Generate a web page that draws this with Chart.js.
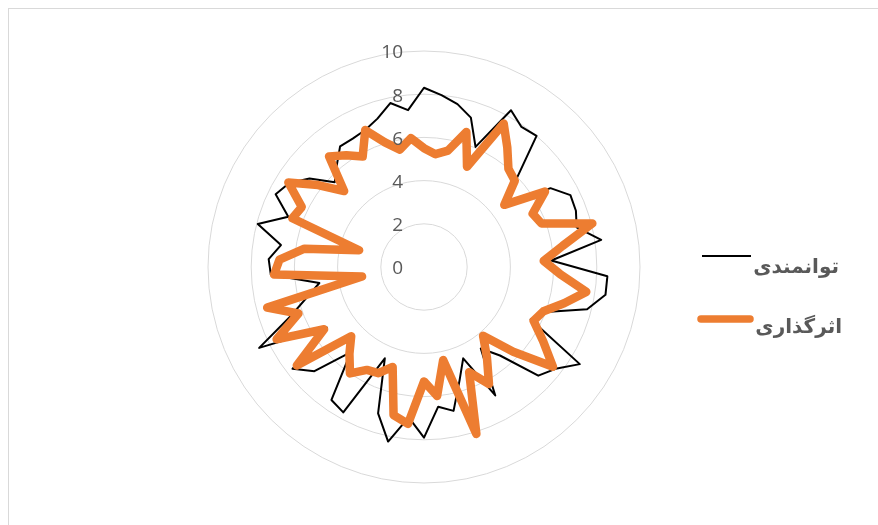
<!DOCTYPE html>
<html>
<head>
<meta charset="utf-8">
<script src="https://cdn.jsdelivr.net/npm/chart.js@4.4.0/dist/chart.umd.min.js"></script>
<style>
  body { margin: 0; background: #fff; }
  #wrap { position: relative; width: 878px; height: 525px; }
  #frame { position: absolute; left: 8px; top: 8px; right: 0; bottom: 0; border-top: 1px solid #d9d9d9; border-left: 1px solid #d9d9d9; }
  canvas { position: absolute; left: 0; top: 0; }
</style>
</head>
<body>
<div id="wrap">
  <div id="frame"></div>
  <canvas id="myChart" width="878" height="525"></canvas>
</div>
<script>
// 62 categories (no labels shown on the chart)
var categories = [];
for (var i = 1; i <= 62; i++) categories.push(String(i));

var seriesNames = ['توانمندی', 'اثرگذاری'];

var tavanmandi = [8.3, 8.0, 7.7, 7.25, 6.05, 8.3, 7.9, 8.0, 5.9, 4.6,
    6.9, 7.55, 7.5, 7.3, 8.3, 5.9, 8.5, 8.5, 7.8, 6.0,
    5.5, 8.5, 7.7, 7.3, 5.4, 4.6, 6.8, 4.6, 5.5, 6.8,
    6.5, 7.9, 7.0, 8.25, 7.1, 4.6, 7.7, 7.5, 5.2, 7.0,
    7.7, 5.3, 8.5, 6.6, 5.6, 4.9, 7.1, 7.2, 6.7, 7.95,
    6.7, 7.65, 7.35, 6.7, 5.7, 6.2, 6.8, 6.8, 6.9, 7.2,
    7.75, 7.3];

var asargozari = [5.5, 5.25, 5.5, 6.55, 5.05, 7.6, 6.75, 6.0, 5.8, 4.7,
    6.6, 5.6, 5.8, 8.05, 6.5, 5.55, 6.3, 7.6, 6.7, 5.9,
    5.65, 6.5, 7.55, 5.7, 4.2, 5.1, 6.2, 5.3, 8.1, 4.4,
    6.0, 5.3, 7.3, 7.0, 4.85, 5.35, 5.45, 6.0, 5.3, 4.65,
    7.45, 5.45, 7.6, 6.2, 7.5, 2.9, 6.95, 6.7, 5.6, 3.1,
    6.5, 6.3, 7.4, 6.2, 5.1, 6.75, 6.3, 5.85, 6.9, 6.05,
    5.55, 6.0];

var tickValues = [0, 2, 4, 6, 8, 10];

// tick labels sit left of the vertical axis, legend is drawn on the right
var extras = {
    id: 'extras',
    afterDraw: function (chart) {
        var ctx = chart.ctx;
        var r = chart.scales.r;
        ctx.save();
        ctx.font = '19px "Open Sans"';
        ctx.fillStyle = '#595959';
        ctx.textAlign = 'right';
        ctx.textBaseline = 'middle';
        tickValues.forEach(function (v) {
            var y = r.yCenter - r.getDistanceFromCenterForValue(v);
            ctx.fillText(String(v), r.xCenter - 21, y + 2);
        });

        var items = [
            { y: 256, color: '#000000', width: 2, x0: 702, x1: 751, tx: 839, ty: 273 },
            { y: 319, color: '#ed7d31', width: 7.5, x0: 701, x1: 750, tx: 842, ty: 333 }
        ];
        ctx.font = 'bold 20px "DejaVu Sans"';
        ctx.fillStyle = '#595959';
        ctx.textBaseline = 'alphabetic';
        items.forEach(function (it, k) {
            ctx.beginPath();
            ctx.lineCap = k === 1 ? 'round' : 'butt';
            ctx.strokeStyle = it.color;
            ctx.lineWidth = it.width;
            ctx.moveTo(it.x0, it.y);
            ctx.lineTo(it.x1, it.y);
            ctx.stroke();
            ctx.fillText(seriesNames[k], it.tx, it.ty);
        });
        ctx.restore();
    }
};

var ctx = document.getElementById('myChart').getContext('2d');
var chart = new Chart(ctx, {
    type: 'radar',
    data: {
        labels: categories,
        datasets: [{
            label: seriesNames[0],
            data: tavanmandi,
            borderColor: '#000000',
            borderWidth: 2,
            borderJoinStyle: 'round',
            pointRadius: 0,
            fill: false,
            order: 1
        }, {
            label: seriesNames[1],
            data: asargozari,
            borderColor: '#ed7d31',
            borderWidth: 8.5,
            borderJoinStyle: 'round',
            pointRadius: 0,
            fill: false,
            order: 0
        }]
    },
    options: {
        responsive: false,
        animation: false,
        layout: { padding: { left: 208, top: 51, right: 238, bottom: 42 } },
        plugins: { legend: { display: false }, tooltip: { enabled: false } },
        scales: {
            r: {
                min: 0,
                max: 10,
                ticks: { display: false, stepSize: 2 },
                grid: { circular: true, color: '#d9d9d9', lineWidth: 1 },
                angleLines: { display: false },
                pointLabels: { display: false }
            }
        }
    },
    plugins: [extras]
});
</script>
</body>
</html>
